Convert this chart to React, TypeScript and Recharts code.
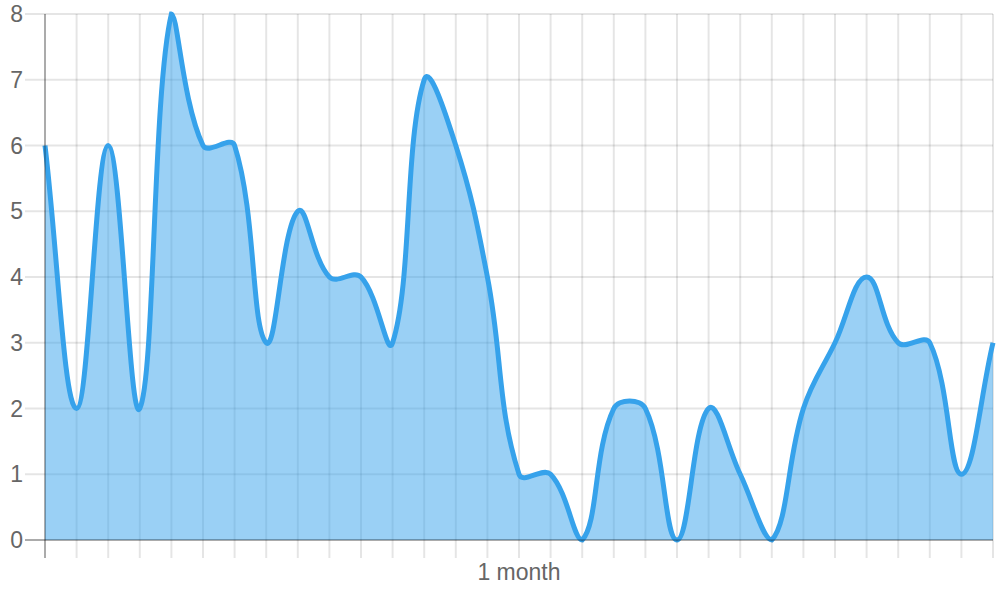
import React from "react";
import { AreaChart, Area, XAxis, YAxis, CartesianGrid } from "recharts";

// 31 daily points, only the middle one carries a label
const LABELS = [
  "", "", "", "", "", "", "", "", "", "", "", "", "", "", "",
  "1 month",
  "", "", "", "", "", "", "", "", "", "", "", "", "", "", "",
];
const VALUES = [6, 2, 6, 2, 8, 6, 6, 3, 5, 4, 4, 3, 7, 6, 4, 1, 1, 0, 2, 2, 0, 2, 1, 0, 2, 3, 4, 3, 3, 1, 3];
const Y_TICKS = [0, 1, 2, 3, 4, 5, 6, 7, 8];

const data = VALUES.map((value, i) => ({ day: i, label: LABELS[i], value }));

const W = 1000;
const H = 600;
const MARGIN = { top: 14, right: 7, bottom: 0, left: 0 };
const Y_AXIS_W = 45;
const X_AXIS_H = 60;
const PLOT = {
  left: MARGIN.left + Y_AXIS_W,
  right: W - MARGIN.right,
  top: MARGIN.top,
  bottom: H - MARGIN.bottom - X_AXIS_H,
};

const FONT = "'Liberation Sans', Arial, Helvetica, sans-serif";
const FONT_SIZE = 23;
const TEXT = "#666";
const GRID = "rgba(0,0,0,0.1)";
const ZERO = "rgba(0,0,0,0.25)";
const BLUE = "#36A2EB";
const TENSION = 0.4;

// Chart.js style spline (tension + control point capping to the chart area)
function chartJsCurve(context: any) {
  let pts: [number, number][] = [];
  let line = NaN;
  const cap = (x: number, y: number): [number, number] => [
    Math.min(Math.max(x, PLOT.left), PLOT.right),
    Math.min(Math.max(y, PLOT.top), PLOT.bottom),
  ];
  return {
    areaStart() { line = 0; },
    areaEnd() { line = NaN; },
    lineStart() { pts = []; },
    lineEnd() {
      const n = pts.length;
      if (n) {
        if (line) context.lineTo(pts[0][0], pts[0][1]);
        else context.moveTo(pts[0][0], pts[0][1]);
        const cps = pts.map((p, i) => {
          const prev = pts[Math.max(0, i - 1)];
          const next = pts[Math.min(n - 1, i + 1)];
          const d01 = Math.hypot(p[0] - prev[0], p[1] - prev[1]);
          const d12 = Math.hypot(next[0] - p[0], next[1] - p[1]);
          let s01 = d01 / (d01 + d12);
          let s12 = d12 / (d01 + d12);
          if (isNaN(s01)) s01 = 0;
          if (isNaN(s12)) s12 = 0;
          const fa = TENSION * s01;
          const fb = TENSION * s12;
          return {
            prev: cap(p[0] - fa * (next[0] - prev[0]), p[1] - fa * (next[1] - prev[1])),
            next: cap(p[0] + fb * (next[0] - prev[0]), p[1] + fb * (next[1] - prev[1])),
          };
        });
        for (let i = 1; i < n; i++) {
          context.bezierCurveTo(
            cps[i - 1].next[0], cps[i - 1].next[1],
            cps[i].prev[0], cps[i].prev[1],
            pts[i][0], pts[i][1]
          );
        }
      }
      if (line || (line !== 0 && n === 1)) context.closePath();
      line = 1 - line;
    },
    point(x: number, y: number) { pts.push([+x, +y]); },
  };
}

const XTick = (props: any) => {
  const { x, y, payload, index } = props;
  return (
    <g>
      {index === 0 && (
        <line x1={x} x2={x} y1={PLOT.bottom} y2={PLOT.bottom + 18} stroke={ZERO} strokeWidth={2} />
      )}
      <text x={x} y={y} dy="0.71em" textAnchor="middle" fill={TEXT}
        fontSize={FONT_SIZE} fontFamily={FONT}>
        {LABELS[payload.value]}
      </text>
    </g>
  );
};

const YTick = (props: any) => {
  const { x, y, payload } = props;
  return (
    <g>
      {payload.value === 0 && (
        <line x1={PLOT.left - 20} x2={PLOT.left} y1={y} y2={y} stroke={ZERO} strokeWidth={2} />
      )}
      <text x={x} y={y} dy="0.355em" textAnchor="end" fill={TEXT}
        fontSize={FONT_SIZE} fontFamily={FONT}>
        {payload.value}
      </text>
    </g>
  );
};

export default function App() {
  return (
    <div style={{ position: "absolute", left: 0, top: 0, width: W, height: H, background: "#fff" }}>
      <AreaChart width={W} height={H} data={data} margin={MARGIN}>
        <CartesianGrid stroke={GRID} strokeWidth={2} />
        <XAxis
          dataKey="day"
          type="category"
          interval={0}
          height={X_AXIS_H}
          tickSize={18}
          tickMargin={6}
          tickLine={{ stroke: GRID, strokeWidth: 2 }}
          axisLine={{ stroke: ZERO, strokeWidth: 2 }}
          tick={<XTick />}
        />
        <YAxis
          domain={[0, 8]}
          ticks={Y_TICKS}
          interval={0}
          width={Y_AXIS_W}
          tickSize={20}
          tickMargin={2}
          tickLine={{ stroke: GRID, strokeWidth: 2 }}
          axisLine={{ stroke: ZERO, strokeWidth: 2 }}
          tick={<YTick />}
        />
        <Area
          dataKey="value"
          type={chartJsCurve as any}
          stroke={BLUE}
          strokeWidth={5}
          fill="rgba(54,162,235,0.5)"
          fillOpacity={1}
          dot={false}
          activeDot={false}
          isAnimationActive={false}
        />
      </AreaChart>
    </div>
  );
}
